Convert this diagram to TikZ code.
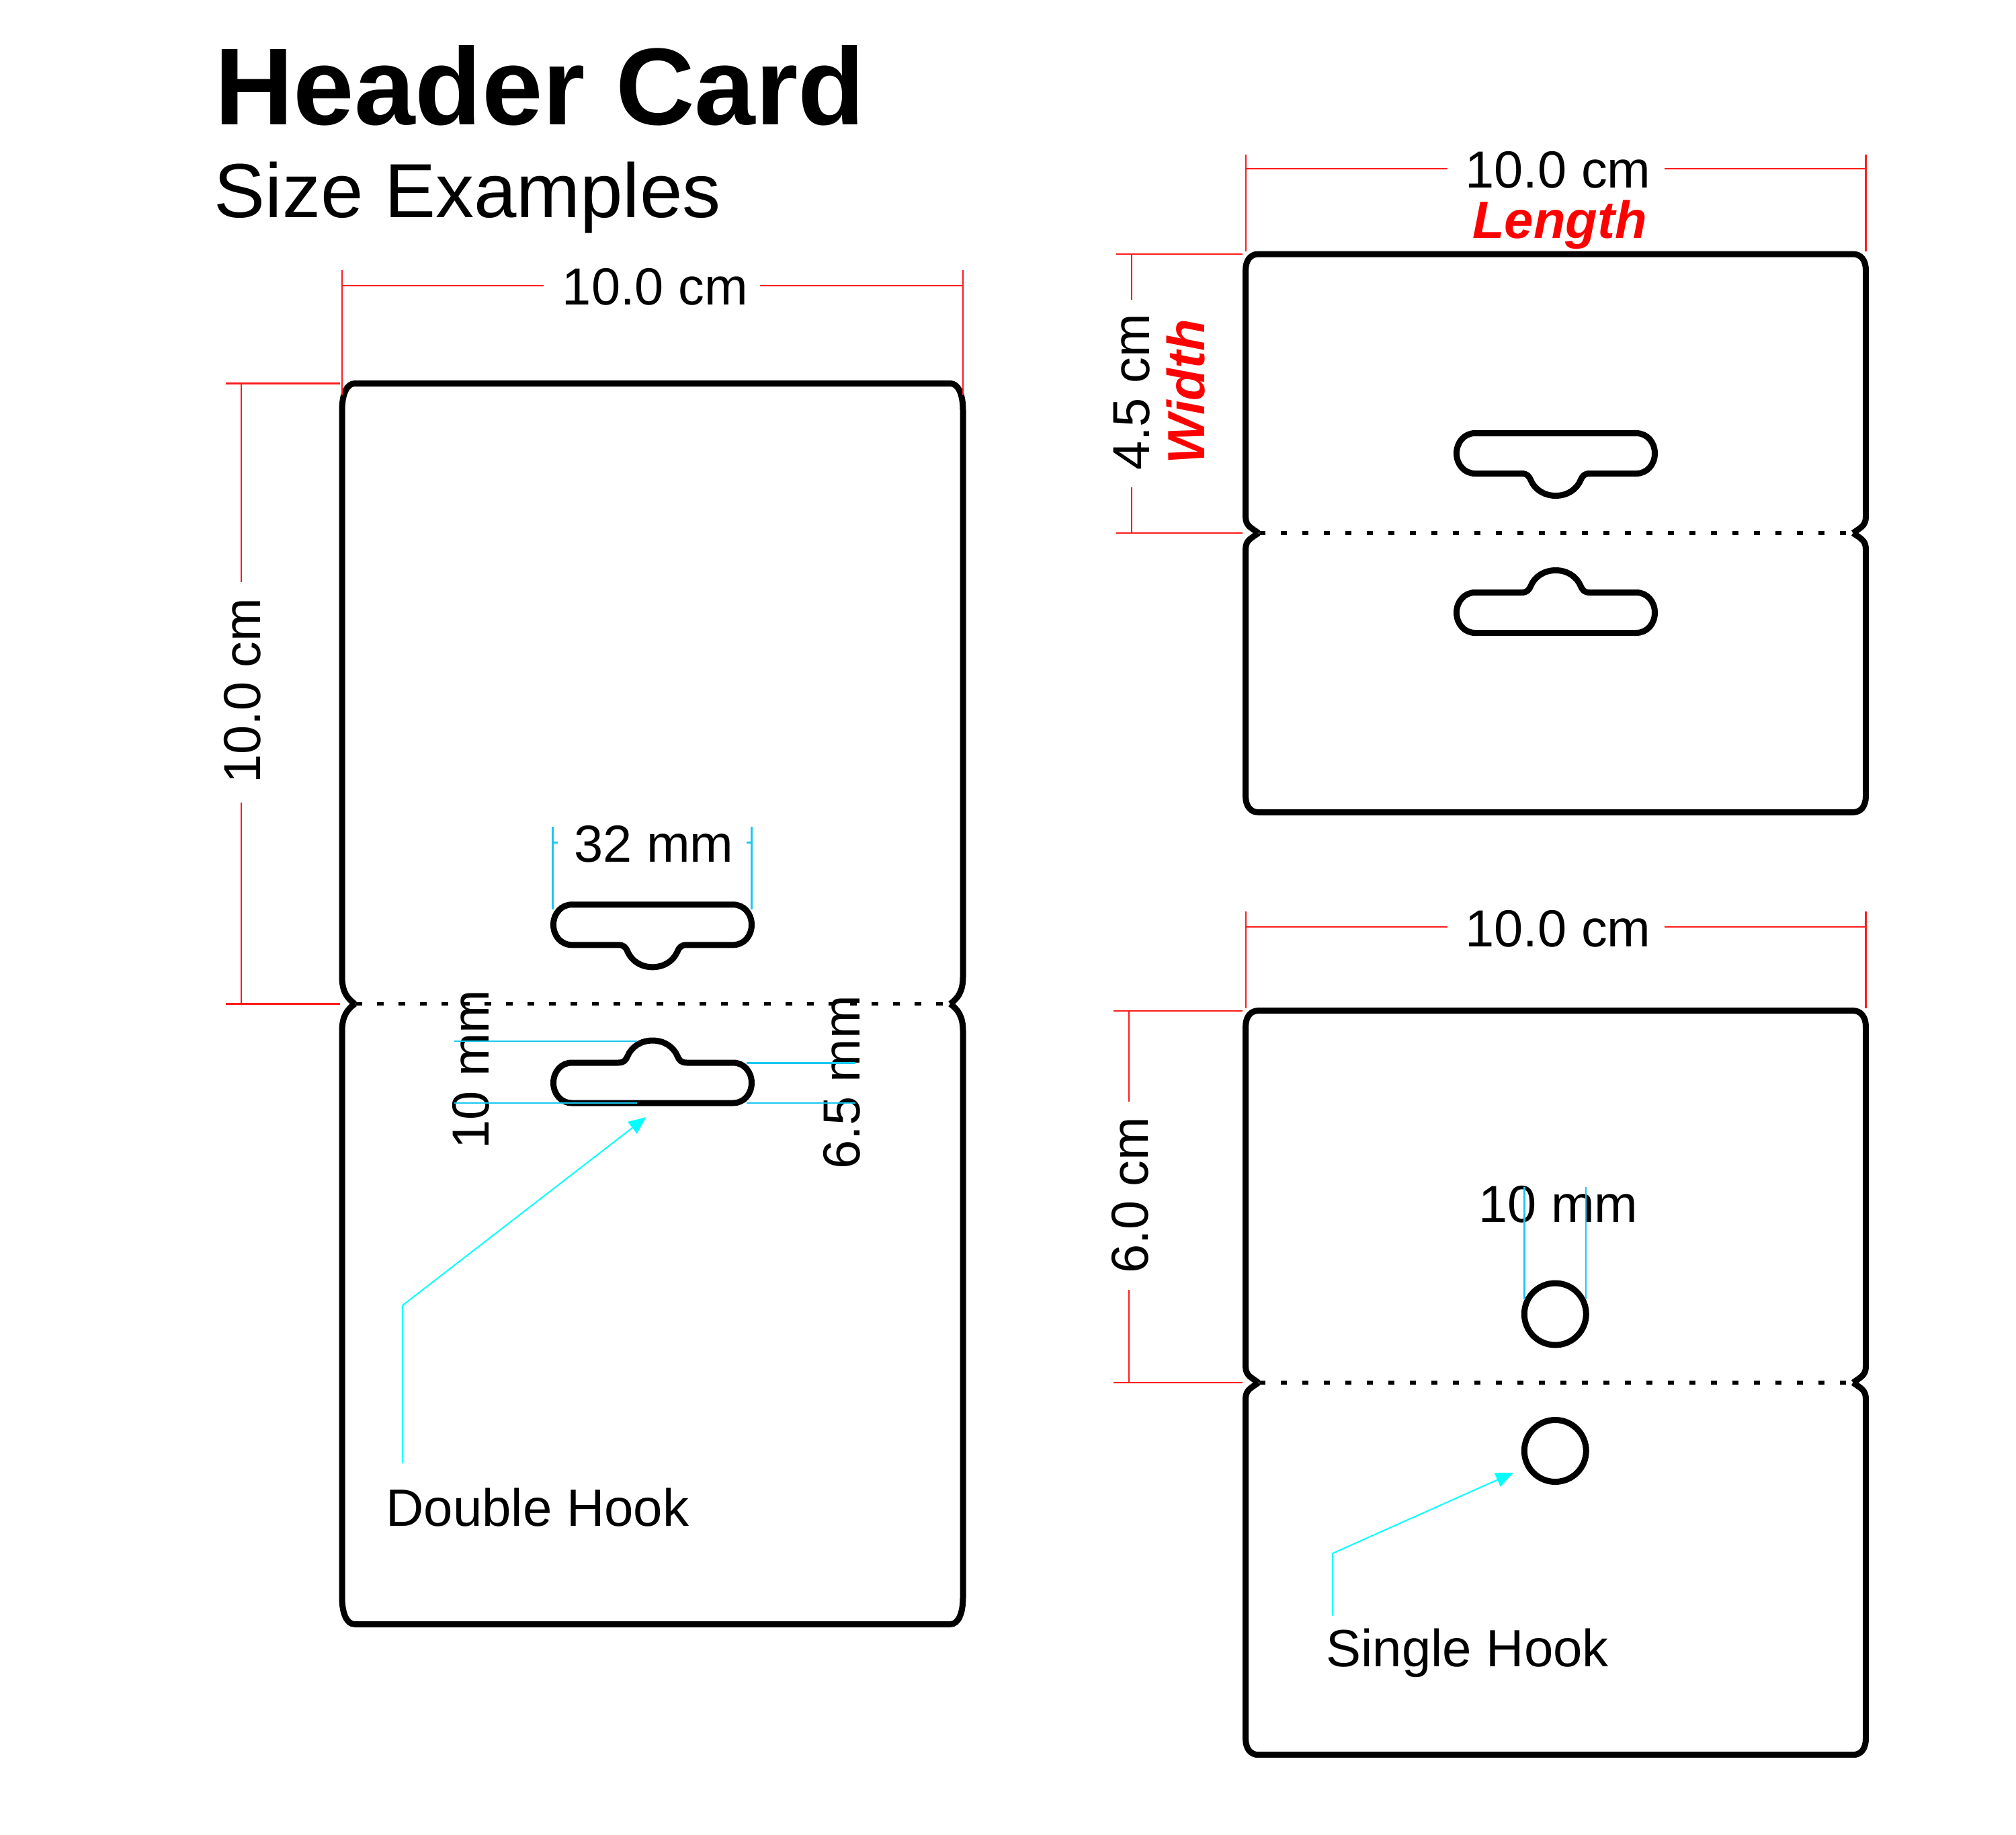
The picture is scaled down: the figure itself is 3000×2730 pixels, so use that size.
\documentclass[tikz,border=0pt]{standalone}
\usepackage{fontspec}
\setmainfont{Liberation Sans}
\usetikzlibrary{arrows.meta}
\definecolor{dimred}{HTML}{FF1A1A}
\definecolor{dimblue}{HTML}{19C8F0}
\definecolor{leadcyan}{HTML}{00FFFF}
\tikzset{
  cardline/.style={line width=4.5pt,line join=round,black},
  foldline/.style={line width=2.6pt,black,dash pattern=on 4.75pt off 11.25pt},
  reddim/.style={line width=1.1pt,dimred},
  bluedim/.style={line width=1.2pt,dimblue},
  leader/.style={line width=1pt,leadcyan,-{Triangle[length=13pt,width=11pt]}},
  dimtext/.style={inner sep=0pt,font=\fontsize{38.8pt}{41pt}\selectfont,anchor=base},
  dimrot/.style={inner sep=0pt,font=\fontsize{38.8pt}{41pt}\selectfont,rotate=90,anchor=base},
  redtext/.style={inner sep=0pt,font=\fontsize{39pt}{41pt}\selectfont\bfseries\itshape,text=red,anchor=base}
}
\newcommand{\cardoutline}[6]{%
  % #1 left, #2 right, #3 top, #4 fold, #5 bottom, #6 height of corner curves
  \draw[cardline]
    ({#1+19},#4) .. controls ({#1+8},{#4-8}) and (#1,{#4-#6*0.45}) .. (#1,{#4-#6})
    -- (#1,{#3+#6}) .. controls (#1,{#3+#6*0.4}) and ({#1+7},#3) .. ({#1+19},#3)
    -- ({#2-19},#3) .. controls ({#2-7},#3) and (#2,{#3+#6*0.4}) .. (#2,{#3+#6})
    -- (#2,{#4-#6}) .. controls (#2,{#4-#6*0.45}) and ({#2-8},{#4-8}) .. ({#2-19},#4);
  \draw[cardline]
    ({#1+19},#4) .. controls ({#1+8},{#4+8}) and (#1,{#4+#6*0.45}) .. (#1,{#4+#6})
    -- (#1,{#5-#6}) .. controls (#1,{#5-#6*0.4}) and ({#1+7},#5) .. ({#1+19},#5)
    -- ({#2-19},#5) .. controls ({#2-7},#5) and (#2,{#5-#6*0.4}) .. (#2,{#5-#6})
    -- (#2,{#4+#6}) .. controls (#2,{#4+#6*0.45}) and ({#2-8},{#4+8}) .. ({#2-19},#4);
  \draw[foldline] ({#1+20},#4) -- ({#2-19},#4);
}
\newcommand{\hookslot}[3]{%
  \begin{scope}[shift={(#1,#2)},yscale=#3]
    \draw[cardline] (-120,0) -- (120,0)
      .. controls (136,0) and (147.5,13.5) .. (147.5,30)
      .. controls (147.5,46.5) and (136,60) .. (120,60)
      -- (51,60) .. controls (43,60) and (40,63) .. (37,70)
      .. controls (31,84) and (17,93) .. (0,93)
      .. controls (-17,93) and (-31,84) .. (-37,70)
      .. controls (-40,63) and (-43,60) .. (-51,60)
      -- (-120,60) .. controls (-136,60) and (-147.5,46.5) .. (-147.5,30)
      .. controls (-147.5,13.5) and (-136,0) .. (-120,0) -- cycle;
  \end{scope}%
}
\begin{document}
\begin{tikzpicture}[x=0.5pt,y=-0.5pt]
\useasboundingbox[fill=white] (0,0) rectangle (3000,2730);

% title
\node[inner sep=0pt,anchor=base west,font=\fontsize{81.4pt}{84pt}\selectfont\bfseries] (title) at (319,185.5) {Header Card};
\node[inner sep=0pt,anchor=base west,font=\fontsize{57pt}{60pt}\selectfont] (subtitle) at (318.5,323) {Size Examples};

% big card
\cardoutline{509}{1433}{570.5}{1493.5}{2416.5}{40}
\hookslot{971}{1345.8}{1}
\hookslot{971}{1641}{-1}

% dimension: big card top
\node[dimtext] (bigw) at (975,453) {10.0 cm};
\draw[reddim] (509,402) -- (509,588);
\draw[reddim] (1433,402) -- (1433,588);
\draw[reddim] (509,424.7) -- (809,424.7);
\draw[reddim] (1131,424.7) -- (1433,424.7);
% dimension: big card left
\node[dimrot] (bigh) at (387,1027.5) {10.0 cm};
\draw[reddim] (336,570.5) -- (505.5,570.5);
\draw[reddim] (336,1493.5) -- (505.5,1493.5);
\draw[reddim] (359.3,570.5) -- (359.3,866);
\draw[reddim] (359.3,1194) -- (359.3,1493.5);

% 32 mm
\node[dimtext] (w32) at (973,1282) {32 mm};
\draw[bluedim] (822.5,1230) -- (822.5,1353);
\draw[bluedim] (1118.4,1230) -- (1118.4,1353);
\draw[bluedim] (822.5,1253.6) -- (829.5,1253.6);
\draw[bluedim] (1118.4,1253.6) -- (1111,1253.6);

% 10 mm / 6.5 mm
\node[dimrot] (h10) at (727.5,1591) {10 mm};
\node[dimrot] (h65) at (1279,1610) {6.5 mm};
\draw[bluedim] (676.4,1549) -- (947.5,1549);
\draw[bluedim] (676.4,1641) -- (947.5,1641);
\draw[bluedim] (1111,1581.5) -- (1272.7,1581.5);
\draw[bluedim] (1111,1641) -- (1272.7,1641);

% double hook leader
\node[inner sep=0pt,anchor=base west,font=\fontsize{39pt}{41pt}\selectfont] (dh) at (574,2270) {Double Hook};
\coordinate (dhtip) at (961.5,1662);
\coordinate (dhjoint) at (599,1942);
\coordinate (dhstart) at (599,2177);
\draw[leader] (dhstart) -- (dhjoint) -- (dhtip);

% top right card
\cardoutline{1853.6}{2776.5}{378}{793}{1208.5}{24}
\hookslot{2315}{644.5}{1}
\hookslot{2315}{941.5}{-1}

\node[dimtext] (rw) at (2318.5,279) {10.0 cm};
\node[redtext] (len) at (2321,354.5) {Length};
\draw[reddim] (1853.6,230) -- (1853.6,374);
\draw[reddim] (2776.5,230) -- (2776.5,374);
\draw[reddim] (1853.6,250.6) -- (2154,250.6);
\draw[reddim] (2477,250.6) -- (2776.5,250.6);

\node[dimrot] (rh) at (1710,583.5) {4.5 cm};
\node[redtext,rotate=90] (wid) at (1792,583) {Width};
\draw[reddim] (1660.7,378) -- (1849,378);
\draw[reddim] (1660.7,793) -- (1849,793);
\draw[reddim] (1683.7,378) -- (1683.7,446);
\draw[reddim] (1683.7,724.6) -- (1683.7,793);

% lower right card
\cardoutline{1853.6}{2776.5}{1503.6}{2057}{2610.7}{24}
\draw[cardline] (2314.3,1955) circle[radius=46];
\draw[cardline] (2314.3,2158.5) circle[radius=46];

\node[dimtext] (rw2) at (2318.5,1408) {10.0 cm};
\draw[reddim] (1853.6,1356) -- (1853.6,1500);
\draw[reddim] (2776.5,1356) -- (2776.5,1500);
\draw[reddim] (1853.6,1379) -- (2154,1379);
\draw[reddim] (2477,1379) -- (2776.5,1379);

\node[dimrot] (rh2) at (1708,1778) {6.0 cm};
\draw[reddim] (1657,1503.6) -- (1849,1503.6);
\draw[reddim] (1657,2057) -- (1849,2057);
\draw[reddim] (1680,1503.6) -- (1680,1639);
\draw[reddim] (1680,1919) -- (1680,2057);

\node[dimtext] (c10) at (2319,1818) {10 mm};
\draw[bluedim] (2268.4,1765.7) -- (2268.4,1933);
\draw[bluedim] (2360,1765.7) -- (2360,1933);

\node[inner sep=0pt,anchor=base west,font=\fontsize{39pt}{41pt}\selectfont] (sh) at (1973,2479) {Single Hook};
\coordinate (shtip) at (2252,2191);
\coordinate (shjoint) at (1983,2311);
\coordinate (shstart) at (1983,2403.5);
\draw[leader] (shstart) -- (shjoint) -- (shtip);
\end{tikzpicture}
\end{document}
